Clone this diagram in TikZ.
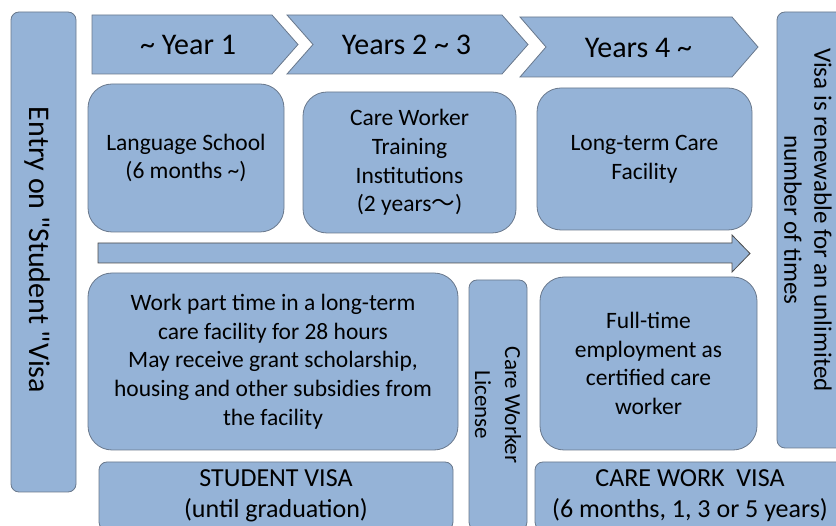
\documentclass[tikz,border=0pt]{standalone}
\usepackage{fontspec}
\setmainfont{Carlito}
\newfontfamily\cjk{Noto Sans CJK JP}
\definecolor{boxfill}{RGB}{149,179,215}
\definecolor{boxline}{RGB}{105,120,140}
\tikzset{
  box/.style={draw=boxline,fill=boxfill,line width=.8pt,rounded corners=24pt,inner sep=0pt,align=center,font=\fontsize{23.5}{28.7}\selectfont},
  bar/.style={box,rounded corners=8pt},
  chev/.style={draw=boxline,fill=boxfill,line width=.8pt},
  yeartxt/.style={inner sep=0pt,font=\fontsize{30}{36}\selectfont},
  visatxt/.style={font=\fontsize{26}{31}\selectfont},
}
\begin{document}
\begin{tikzpicture}[x=1pt,y=-1pt]
\useasboundingbox (0,0) rectangle (836,526);
\clip (0,0) rectangle (836,526);
% side bars
\node[bar,minimum width=65,minimum height=480] (entry) at (43.5,252) {};
\node[rotate=-90,inner sep=0pt,font=\fontsize{30}{36}\selectfont] (entrytxt) at (37,250) {Entry on \textquotedbl Student \textquotedbl Visa};
\node[bar,minimum width=68,minimum height=436] (renew) at (811,230) {};
\node[rotate=-90,align=center,inner sep=0pt,font=\fontsize{25}{30}\selectfont] (renewtxt) at (808,220) {Visa is renewable for an unlimited\\number of times};
% year chevrons
\draw[chev] (92,15)--(272,15)--(298,44.5)--(272,74)--(92,74)--cycle;
\draw[chev] (287,15)--(502,15)--(528,44.5)--(502,74)--(287,74)--(313,44.5)--cycle;
\draw[chev] (520,17)--(732,17)--(758,47)--(732,77)--(520,77)--(546,47)--cycle;
\node[yeartxt] (yr1) at (188,45) {\textasciitilde{} Year 1};
\node[yeartxt] (yr23) at (406.5,45) {Years 2 \textasciitilde{} 3};
\node[yeartxt] (yr4) at (638.5,48) {Years 4 \textasciitilde};
% schools
\node[box,minimum width=196,minimum height=148] (school) at (186,158) {Language School\\(6 months \textasciitilde)};
\node[box,minimum width=213,minimum height=141] (training) at (409.5,162.5) {Care Worker\\Training\\Institutions\\(2 years{\cjk 〜})};
\node[box,minimum width=215,minimum height=142] (facility) at (644.5,159) {Long-term Care\\Facility};
% time arrow
\draw[chev,draw=black!70] (98,243)--(732,243)--(732,235)--(750,253.5)--(732,272)--(732,263)--(98,263)--cycle;
% work
\node[box,minimum width=370,minimum height=177] (parttime) at (273,361.5) {Work part time in a long-term\\care facility for 28 hours\\May receive grant scholarship,\\housing and other subsidies from\\the facility};
\node[bar,rotate=-90,minimum width=250,minimum height=58,font=\fontsize{23}{30}\selectfont] (license) at (498,405) {Care Worker\\License};
\node[box,minimum width=217,minimum height=173] (fulltime) at (648.5,363.5) {Full-time\\employment as\\certified care\\worker};
% visas
\node[bar,visatxt,minimum width=354,minimum height=68] (studvisa) at (276,496) {STUDENT VISA\\(until graduation)};
\node[bar,visatxt,minimum width=310,minimum height=68] (carevisa) at (690,496) {CARE WORK\ \ VISA\\(6 months, 1, 3 or 5 years)};
\end{tikzpicture}
\end{document}
